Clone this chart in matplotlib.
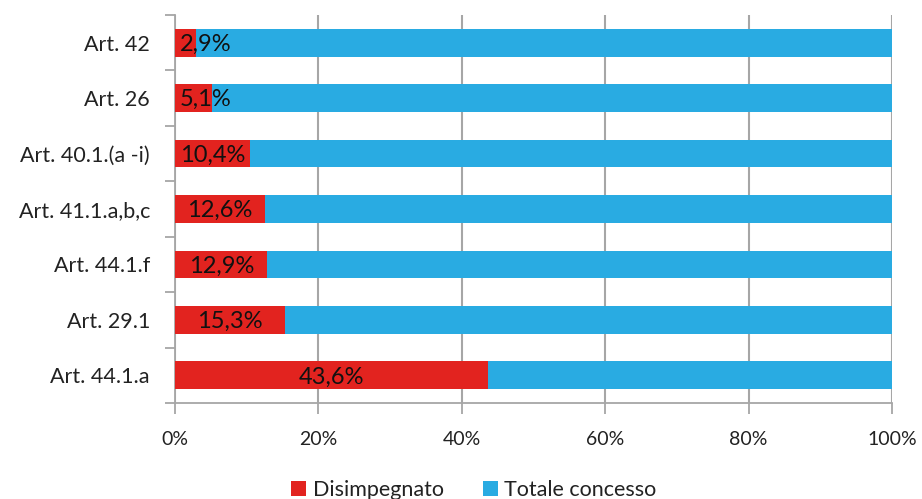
import matplotlib
matplotlib.use("Agg")
import matplotlib.pyplot as plt
import numpy as np

plt.rcParams["font.family"] = ["Lato", "DejaVu Sans"]

articles = ["Art. 42", "Art. 26", "Art. 40.1.(a -i)", "Art. 41.1.a,b,c",
            "Art. 44.1.f", "Art. 29.1", "Art. 44.1.a"]
disimpegnato = [2.9, 5.1, 10.4, 12.6, 12.9, 15.3, 43.6]
labels = ["2,9%", "5,1%", "10,4%", "12,6%", "12,9%", "15,3%", "43,6%"]

red = "#E2231F"
blue = "#29ABE2"
grey = "#A6A6A6"

fig = plt.figure(figsize=(9.22, 4.99), dpi=100)
axis = fig.add_axes([0.1898, 0.1924, 0.7777, 0.7776])

y = np.arange(len(articles))
dis = np.array(disimpegnato)
conc = 100 - dis

axis.barh(y, dis, height=0.5, color=red, label="Disimpegnato", zorder=3)
axis.barh(y, conc, left=dis, height=0.5, color=blue, label="Totale concesso", zorder=3)

# labels sit in the middle of the red part, pushed right when it is too narrow
for yi, v, text in zip(y, dis, labels):
    axis.text(max(v / 2, 4.3), yi + 0.03, text, ha="center", va="center",
              fontsize=17, color="#111111", zorder=4)

axis.set_xlim(0, 100)
axis.set_ylim(len(articles) - 0.5, -0.5)
axis.set_xticks(np.arange(0, 101, 20))
axis.set_xticklabels([f"{v}%" for v in range(0, 101, 20)])

axis.set_yticks(np.arange(-0.5, len(articles), 1))
axis.set_yticklabels([])
axis.set_yticks(y, minor=True)
axis.set_yticklabels(articles, minor=True)
axis.tick_params(axis="y", which="minor", length=0, pad=18, labelsize=15.5, labelcolor="#222222")
axis.tick_params(axis="y", which="major", length=7, width=1.3, color=grey, direction="out")
axis.tick_params(axis="x", length=8, width=1.3, color=grey, pad=12, labelsize=14, labelcolor="#222222")

axis.grid(axis="x", color=grey, linewidth=1.5, zorder=0)
for side in ("top", "right"):
    axis.spines[side].set_visible(False)
for side in ("left", "bottom"):
    axis.spines[side].set_color(grey)
    axis.spines[side].set_linewidth(1.3)

handles, names = axis.get_legend_handles_labels()
fig.legend(handles, names, loc="lower center", bbox_to_anchor=(0.514, -0.04), ncol=2,
           frameon=False, fontsize=15.5, handlelength=0.7, handleheight=0.7,
           handletextpad=0.3, columnspacing=1.8, labelcolor="#222222")

fig.savefig("out.png", dpi=100)
